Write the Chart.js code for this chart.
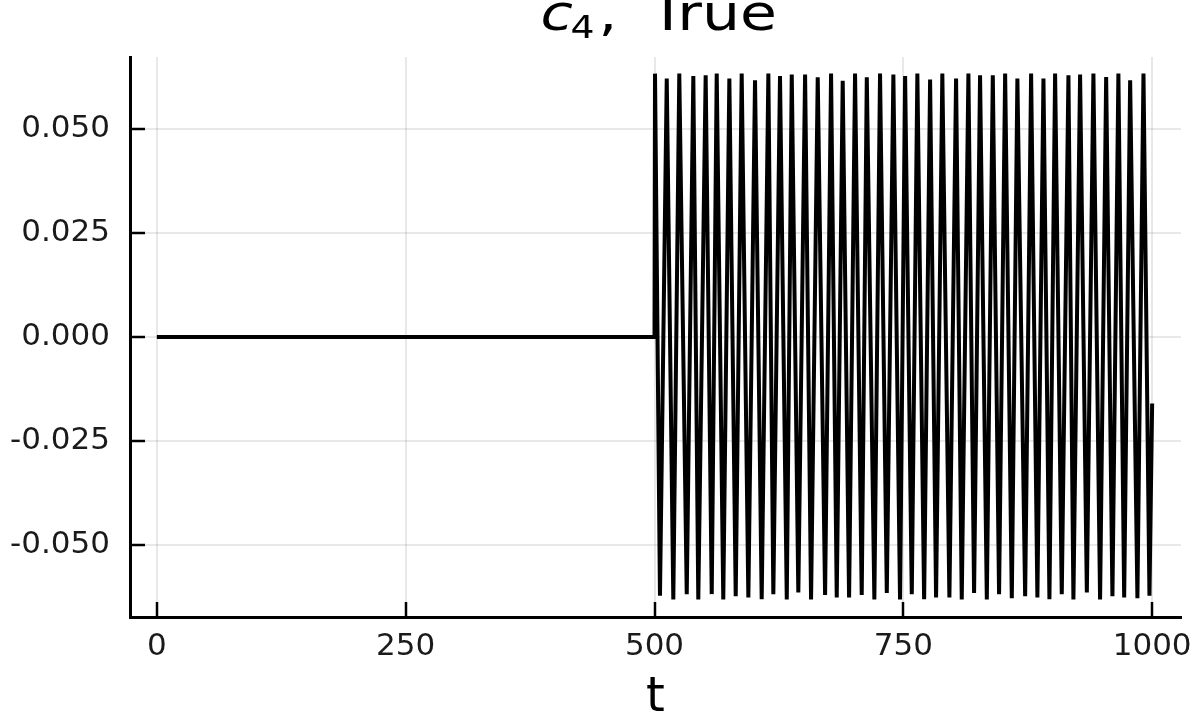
<!DOCTYPE html>
<html>
<head>
<meta charset="utf-8">
<script src="https://cdn.jsdelivr.net/npm/chart.js@4.4.1/dist/chart.umd.min.js"></script>
<style>
  html, body { margin: 0; padding: 0; background: #fff; }
  canvas { display: block; }
</style>
</head>
<body>
<canvas id="c4" width="1196" height="727"></canvas>
<script>
  // flat part before the switch-on
  const flatT = [0, 500];
  const flatV = [0, 0];

  // oscillation maxima
  const peakT = [500.5, 512.3, 524.9, 539.0, 551.4, 562.5, 575.2, 587.6, 601.0, 614.4,
                 626.1, 637.9, 651.3, 664.0, 677.4, 689.1, 701.5, 713.3, 726.6, 740.0,
                 751.8, 764.1, 776.9, 789.2, 803.0, 815.4, 827.1, 839.9, 852.3, 864.6,
                 878.4, 890.8, 902.5, 915.9, 927.6, 941.0, 953.8, 966.1, 977.9, 991.3];
  const peakV = [0.0633, 0.0621, 0.0633, 0.0627, 0.0629, 0.0633, 0.0621, 0.0633, 0.0617, 0.0633,
                 0.0627, 0.0631, 0.0631, 0.0624, 0.0633, 0.0616, 0.0633, 0.0624, 0.0633, 0.0631,
                 0.0627, 0.0633, 0.0619, 0.0633, 0.0621, 0.0633, 0.0629, 0.0629, 0.0633, 0.0621,
                 0.0633, 0.0621, 0.0633, 0.0629, 0.0631, 0.0633, 0.0625, 0.0633, 0.0617, 0.0633];

  // oscillation minima
  const troughT = [505.5, 518.9, 532.4, 544.0, 557.5, 569.1, 581.6, 594.3, 607.7, 619.4,
                   632.9, 644.5, 657.3, 671.4, 683.1, 695.5, 708.2, 720.9, 733.4, 746.7,
                   758.5, 770.9, 782.9, 796.3, 808.7, 821.1, 833.9, 846.2, 859.0, 872.4,
                   884.7, 896.8, 909.2, 920.9, 934.4, 947.7, 960.1, 971.9, 985.2, 997.3];
  const troughV = [-0.0622, -0.0631, -0.0618, -0.0631, -0.0618, -0.0631, -0.0623, -0.0626, -0.0630, -0.0618,
                   -0.0631, -0.0614, -0.0631, -0.0620, -0.0626, -0.0626, -0.0620, -0.0631, -0.0615, -0.0631,
                   -0.0618, -0.0630, -0.0626, -0.0626, -0.0631, -0.0615, -0.0631, -0.0618, -0.0628, -0.0623,
                   -0.0626, -0.0630, -0.0618, -0.0631, -0.0614, -0.0631, -0.0623, -0.0626, -0.0628, -0.0622];

  const endT = 1000;
  const endV = -0.016;

  const xTicks = [0, 250, 500, 750, 1000];
  const yTicks = [-0.05, -0.025, 0, 0.025, 0.05];

  function buildSeries(){
    const pts = [];
    flatT.forEach((t, i) => pts.push({ x: t, y: flatV[i] }));
    peakT.forEach((t, i) => {
      pts.push({ x: t, y: peakV[i] });
      pts.push({ x: troughT[i], y: troughV[i] });
    });
    pts.push({ x: endT, y: endV });
    return pts;
  }

  const FONT = '"DejaVu Sans", "Liberation Sans", sans-serif';

  // text a bit wider than the font, like the stretched original
  function wideText(ctx, txt, x, y, font, sx){
    ctx.save();
    ctx.translate(x, y);
    ctx.scale(sx, 1);
    ctx.font = font;
    ctx.fillText(txt, 0, 0);
    ctx.restore();
  }

  // title c_4, True drawn by hand so the subscript sits right
  const mathTitle = {
    id: "mathTitle",
    afterDraw(chart){
      const ctx = chart.ctx;
      const a = chart.chartArea;
      const cx = (a.left + a.right) / 2;
      ctx.save();
      ctx.fillStyle = "#000";
      ctx.textAlign = "left";
      ctx.textBaseline = "alphabetic";
      wideText(ctx, "c", cx - 115, 30, "italic 50px " + FONT, 1.18);
      wideText(ctx, "4", cx - 85, 38, "32px " + FONT, 1.18);
      wideText(ctx, ",", cx - 57, 30, "50px " + FONT, 1.18);
      wideText(ctx, "True", cx - 6, 30, "50px " + FONT, 1.2);
      ctx.restore();
    }
  };

  new Chart(document.getElementById("c4").getContext("2d"), {
    type: "line",
    data: {
      datasets: [{
        data: buildSeries(),
        borderColor: "#000",
        borderWidth: 4,
        pointRadius: 0,
        tension: 0,
        fill: false
      }]
    },
    options: {
      responsive: false,
      animation: false,
      layout: { padding: { top: 57, right: 15, left: 0, bottom: 0 } },
      plugins: { legend: { display: false }, tooltip: { enabled: false }, title: { display: false } },
      scales: {
        x: {
          type: "linear",
          min: -27,
          max: 1029,
          afterBuildTicks: s => { s.ticks = xTicks.map(v => ({ value: v })); },
          afterFit: s => { s.height = 110; s.paddingLeft = 0; s.paddingRight = 0; },
          grid: { color: "rgba(0,0,0,0.09)", lineWidth: 2, tickLength: -15, tickColor: "#000", tickWidth: 2.5 },
          border: { display: true, color: "#000", width: 3 },
          ticks: {
            color: "#1a1a1a",
            font: { family: FONT, size: 31 },
            padding: 26,
            maxRotation: 0,
            callback: v => String(v)
          },
          title: { display: true, text: "t", color: "#000", font: { family: FONT, size: 48 }, padding: { top: 0, bottom: 0 } }
        },
        y: {
          type: "linear",
          min: -0.0673,
          max: 0.0673,
          afterBuildTicks: s => { s.ticks = yTicks.map(v => ({ value: v })); },
          afterFit: s => { s.width = 130; s.paddingTop = 0; s.paddingBottom = 0; },
          grid: { color: "rgba(0,0,0,0.09)", lineWidth: 2, tickLength: -15, tickColor: "#000", tickWidth: 2.5 },
          border: { display: true, color: "#000", width: 3 },
          ticks: {
            color: "#1a1a1a",
            font: { family: FONT, size: 31 },
            padding: 35,
            callback: v => v.toFixed(3)
          }
        }
      }
    },
    plugins: [mathTitle]
  });
</script>
</body>
</html>
